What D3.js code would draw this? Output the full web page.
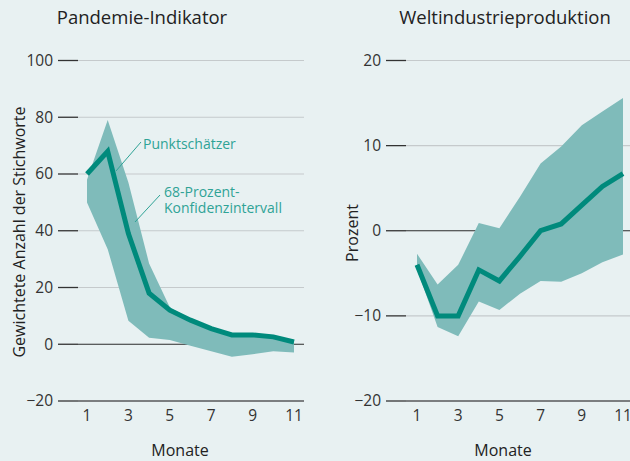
<!DOCTYPE html>
<html>
<head>
<meta charset="UTF-8">
<title>Pandemie-Indikator und Weltindustrieproduktion</title>
<style>
    body { margin: 0; background: #e8f1f2; }
    svg { display: block; font-family: "Open Sans", "Noto Sans", sans-serif; }
    .tick-label { font-size: 15.5px; fill: #333; }
    .title { font-size: 18.5px; fill: #222; text-anchor: middle; }
    .axis-title { font-size: 16px; fill: #222; text-anchor: middle; }
    .note { font-size: 14px; fill: #2fa396; }
</style>
<script src="https://d3js.org/d3.v7.min.js"></script>
</head>
<body>
<div id="chart"></div>
<script>
    // months 1..11
    const months = [1, 2, 3, 4, 5, 6, 7, 8, 9, 10, 11];
    const xTicks = [1, 3, 5, 7, 9, 11];

    // Pandemie-Indikator
    const pandemicPoint = [60, 68, 39, 18, 12, 8.5, 5.5, 3.3, 3.3, 2.6, 0.8];
    const pandemicUpper = [58, 79, 57, 28.5, 13, 9, 6, 3.6, 3.6, 2.8, 1];
    const pandemicLower = [50, 33.5, 8.3, 2.3, 1.5, -0.5, -2.5, -4.4, -3.5, -2.5, -2.9];
    const pandemicYTicks = [-20, 0, 20, 40, 60, 80, 100];

    // Weltindustrieproduktion
    const productionPoint = [-4, -10, -10, -4.6, -5.9, -3, 0, 0.8, 3, 5.2, 6.7];
    const productionUpper = [-2.7, -6.3, -4, 0.9, 0.3, 4, 7.9, 9.9, 12.4, 14, 15.6];
    const productionLower = [-4.5, -11.3, -12.4, -8.3, -9.3, -7.4, -5.9, -6, -5, -3.7, -2.8];
    const productionYTicks = [-20, -10, 0, 10, 20];

    const W = 630, H = 461;
    const svg = d3.select("#chart").append("svg")
        .attr("width", W)
        .attr("height", H);

    function drawPanel(opt) {
        const x = d3.scaleLinear().domain([1, 11]).range(opt.xRange);
        const y = d3.scaleLinear().domain(opt.yDomain).range([401, 60.5]);
        const g = svg.append("g");

        // gridlines
        g.selectAll(".grid")
            .data(opt.yTicks)
            .enter().append("line")
                .attr("x1", opt.gridX[0])
                .attr("x2", opt.gridX[1])
                .attr("y1", d => y(d))
                .attr("y2", d => y(d))
                .attr("stroke", d => d === opt.yDomain[0] ? "#7b7e80" : (d === 0 ? "#2b2b2b" : "#c5cacc"))
                .attr("stroke-width", d => d === opt.yDomain[0] ? 2 : 1.2);

        // tick dashes
        g.selectAll(".tickmark")
            .data(opt.yTicks)
            .enter().append("line")
                .attr("x1", opt.gridX[0] - 20)
                .attr("x2", opt.gridX[0])
                .attr("y1", d => y(d))
                .attr("y2", d => y(d))
                .attr("stroke", "#333")
                .attr("stroke-width", 1.3);

        g.selectAll(".ylab")
            .data(opt.yTicks)
            .enter().append("text")
                .attr("class", "tick-label")
                .attr("x", opt.gridX[0] - 25)
                .attr("y", d => y(d))
                .attr("dy", "0.35em")
                .attr("text-anchor", "end")
                .text(d => d < 0 ? "\u2212" + Math.abs(d) : d);

        g.selectAll(".xlab")
            .data(xTicks)
            .enter().append("text")
                .attr("class", "tick-label")
                .attr("x", d => x(d))
                .attr("y", 421)
                .attr("text-anchor", "middle")
                .text(d => d);

        // confidence band
        const area = d3.area()
            .x((d, i) => x(months[i]))
            .y0((d, i) => y(opt.lower[i]))
            .y1(d => y(d));
        g.append("path")
            .datum(opt.upper)
            .attr("d", area)
            .attr("fill", "#7fbbba");

        // point estimate
        const line = d3.line()
            .x((d, i) => x(months[i]))
            .y(d => y(d));
        g.append("path")
            .datum(opt.point)
            .attr("d", line)
            .attr("fill", "none")
            .attr("stroke", "#008a7c")
            .attr("stroke-width", 5)
            .attr("stroke-linejoin", "miter");

        g.append("text")
            .attr("class", "title")
            .attr("x", opt.titleX)
            .attr("y", 24)
            .text(opt.title);

        g.append("text")
            .attr("class", "axis-title")
            .attr("x", opt.monateX)
            .attr("y", 456)
            .text("Monate");

        g.append("text")
            .attr("class", "axis-title")
            .attr("transform", `translate(${opt.yTitleX},${opt.yTitleY}) rotate(-90)`)
            .text(opt.yTitle);

        return {x, y, g};
    }

    const left = drawPanel({
        xRange: [87, 294],
        yDomain: [-20, 100],
        yTicks: pandemicYTicks,
        gridX: [78, 304],
        point: pandemicPoint,
        upper: pandemicUpper,
        lower: pandemicLower,
        title: "Pandemie-Indikator",
        titleX: 142,
        monateX: 180,
        yTitle: "Gewichtete Anzahl der Stichworte",
        yTitleX: 25,
        yTitleY: 232
    });

    drawPanel({
        xRange: [417, 623],
        yDomain: [-20, 20],
        yTicks: productionYTicks,
        gridX: [406, 630],
        point: productionPoint,
        upper: productionUpper,
        lower: productionLower,
        title: "Weltindustrieproduktion",
        titleX: 505,
        monateX: 503,
        yTitle: "Prozent",
        yTitleX: 358,
        yTitleY: 233
    });

    // annotations in left panel
    const ann = left.g.append("g");
    ann.append("line")
        .attr("x1", 141).attr("y1", 142)
        .attr("x2", 116).attr("y2", 171)
        .attr("stroke", "#2fa396").attr("stroke-width", 1);
    ann.append("text")
        .attr("class", "note")
        .attr("x", 143).attr("y", 149)
        .text("Punktschätzer");
    ann.append("line")
        .attr("x1", 160).attr("y1", 195)
        .attr("x2", 135).attr("y2", 222)
        .attr("stroke", "#2fa396").attr("stroke-width", 1);
    ann.append("text")
        .attr("class", "note")
        .attr("x", 164).attr("y", 197)
        .text("68-Prozent-");
    ann.append("text")
        .attr("class", "note")
        .attr("x", 164).attr("y", 213)
        .text("Konfidenzintervall");
</script>
</body>
</html>
